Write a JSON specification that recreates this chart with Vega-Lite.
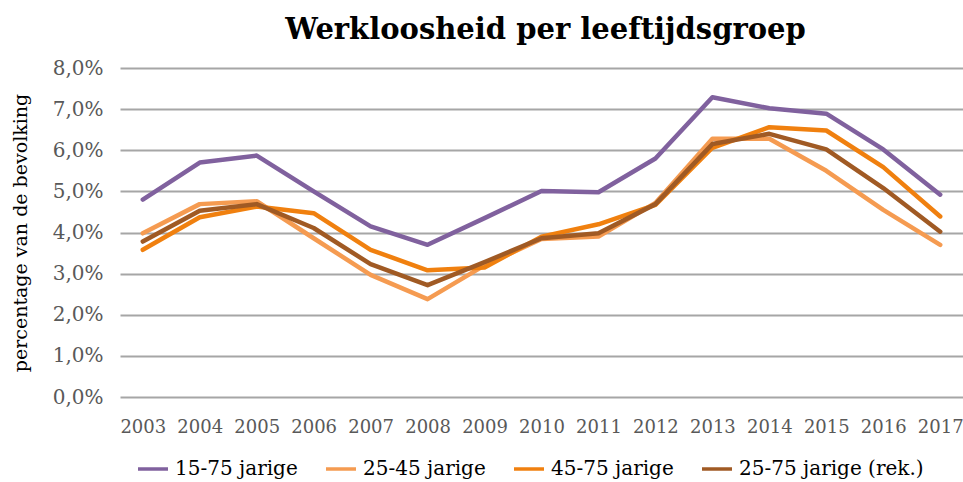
{
  "$schema": "https://vega.github.io/schema/vega-lite/v6.json",
  "width": 843,
  "height": 329,
  "autosize": {"type": "none"},
  "padding": {"left": 120, "top": 68, "right": 0, "bottom": 85},
  "background": "white",
  "title": {
    "text": "Werkloosheid per leeftijdsgroep",
    "font": "DejaVu Serif",
    "fontSize": 29,
    "fontWeight": "bold",
    "color": "#000000",
    "anchor": "middle",
    "frame": "group",
    "baseline": "alphabetic",
    "offset": 20,
    "dy": 30,
    "dx": 4
  },
  "data": {
    "values": [
      {"year": "2003", "series": "15-75 jarige", "value": 4.80},
      {"year": "2004", "series": "15-75 jarige", "value": 5.70},
      {"year": "2005", "series": "15-75 jarige", "value": 5.87},
      {"year": "2006", "series": "15-75 jarige", "value": 5.00},
      {"year": "2007", "series": "15-75 jarige", "value": 4.15},
      {"year": "2008", "series": "15-75 jarige", "value": 3.70},
      {"year": "2009", "series": "15-75 jarige", "value": 4.35},
      {"year": "2010", "series": "15-75 jarige", "value": 5.01},
      {"year": "2011", "series": "15-75 jarige", "value": 4.98},
      {"year": "2012", "series": "15-75 jarige", "value": 5.80},
      {"year": "2013", "series": "15-75 jarige", "value": 7.29},
      {"year": "2014", "series": "15-75 jarige", "value": 7.02},
      {"year": "2015", "series": "15-75 jarige", "value": 6.89},
      {"year": "2016", "series": "15-75 jarige", "value": 6.02},
      {"year": "2017", "series": "15-75 jarige", "value": 4.92},
      {"year": "2003", "series": "25-45 jarige", "value": 3.98},
      {"year": "2004", "series": "25-45 jarige", "value": 4.69},
      {"year": "2005", "series": "25-45 jarige", "value": 4.76},
      {"year": "2006", "series": "25-45 jarige", "value": 3.86},
      {"year": "2007", "series": "25-45 jarige", "value": 2.97},
      {"year": "2008", "series": "25-45 jarige", "value": 2.38},
      {"year": "2009", "series": "25-45 jarige", "value": 3.20},
      {"year": "2010", "series": "25-45 jarige", "value": 3.84},
      {"year": "2011", "series": "25-45 jarige", "value": 3.90},
      {"year": "2012", "series": "25-45 jarige", "value": 4.72},
      {"year": "2013", "series": "25-45 jarige", "value": 6.28},
      {"year": "2014", "series": "25-45 jarige", "value": 6.28},
      {"year": "2015", "series": "25-45 jarige", "value": 5.50},
      {"year": "2016", "series": "25-45 jarige", "value": 4.55},
      {"year": "2017", "series": "25-45 jarige", "value": 3.70},
      {"year": "2003", "series": "45-75 jarige", "value": 3.58},
      {"year": "2004", "series": "45-75 jarige", "value": 4.37},
      {"year": "2005", "series": "45-75 jarige", "value": 4.63},
      {"year": "2006", "series": "45-75 jarige", "value": 4.47},
      {"year": "2007", "series": "45-75 jarige", "value": 3.58},
      {"year": "2008", "series": "45-75 jarige", "value": 3.08},
      {"year": "2009", "series": "45-75 jarige", "value": 3.15},
      {"year": "2010", "series": "45-75 jarige", "value": 3.90},
      {"year": "2011", "series": "45-75 jarige", "value": 4.20},
      {"year": "2012", "series": "45-75 jarige", "value": 4.67},
      {"year": "2013", "series": "45-75 jarige", "value": 6.06},
      {"year": "2014", "series": "45-75 jarige", "value": 6.56},
      {"year": "2015", "series": "45-75 jarige", "value": 6.48},
      {"year": "2016", "series": "45-75 jarige", "value": 5.59},
      {"year": "2017", "series": "45-75 jarige", "value": 4.39},
      {"year": "2003", "series": "25-75 jarige (rek.)", "value": 3.78},
      {"year": "2004", "series": "25-75 jarige (rek.)", "value": 4.53},
      {"year": "2005", "series": "25-75 jarige (rek.)", "value": 4.69},
      {"year": "2006", "series": "25-75 jarige (rek.)", "value": 4.11},
      {"year": "2007", "series": "25-75 jarige (rek.)", "value": 3.23},
      {"year": "2008", "series": "25-75 jarige (rek.)", "value": 2.72},
      {"year": "2009", "series": "25-75 jarige (rek.)", "value": 3.28},
      {"year": "2010", "series": "25-75 jarige (rek.)", "value": 3.86},
      {"year": "2011", "series": "25-75 jarige (rek.)", "value": 3.98},
      {"year": "2012", "series": "25-75 jarige (rek.)", "value": 4.69},
      {"year": "2013", "series": "25-75 jarige (rek.)", "value": 6.15},
      {"year": "2014", "series": "25-75 jarige (rek.)", "value": 6.40},
      {"year": "2015", "series": "25-75 jarige (rek.)", "value": 6.02},
      {"year": "2016", "series": "25-75 jarige (rek.)", "value": 5.08},
      {"year": "2017", "series": "25-75 jarige (rek.)", "value": 4.02}
    ]
  },
  "mark": {"type": "line", "strokeWidth": 4.5, "strokeJoin": "round", "strokeCap": "round"},
  "encoding": {
    "x": {
      "field": "year",
      "type": "ordinal",
      "scale": {"type": "point", "padding": 0.4},
      "axis": {
        "title": null,
        "domain": false,
        "ticks": false,
        "grid": false,
        "labelAngle": 0,
        "labelFont": "DejaVu Serif",
        "labelFontSize": 18,
        "labelColor": "#595959",
        "labelPadding": 21
      }
    },
    "y": {
      "field": "value",
      "type": "quantitative",
      "scale": {"domain": [0, 8], "nice": false},
      "axis": {
        "title": "percentage van de bevolking",
        "titleFont": "DejaVu Serif",
        "titleFontSize": 19,
        "titleFontWeight": "normal",
        "titleColor": "#000000",
        "titlePadding": 22,
        "values": [0, 1, 2, 3, 4, 5, 6, 7, 8],
        "labelExpr": "replace(format(datum.value, '.1f'), '.', ',') + '%'",
        "labelFont": "DejaVu Serif",
        "labelFontSize": 20,
        "labelColor": "#595959",
        "labelPadding": 17,
        "domain": false,
        "ticks": false,
        "grid": true,
        "gridColor": "#A6A6A6",
        "gridWidth": 2
      }
    },
    "color": {
      "field": "series",
      "type": "nominal",
      "scale": {
        "domain": ["15-75 jarige", "25-45 jarige", "45-75 jarige", "25-75 jarige (rek.)"],
        "range": ["#80619E", "#F59B51", "#F0800F", "#A05A24"]
      },
      "legend": {
        "title": null,
        "orient": "none",
        "direction": "horizontal",
        "legendX": 16,
        "legendY": 384,
        "symbolType": "stroke",
        "symbolSize": 900,
        "symbolStrokeWidth": 3.5,
        "labelFont": "DejaVu Serif",
        "labelFontSize": 20,
        "labelColor": "#000000",
        "labelOffset": 5,
        "columnPadding": 21,
        "labelLimit": 400
      }
    }
  },
  "config": {"view": {"stroke": null}}
}
